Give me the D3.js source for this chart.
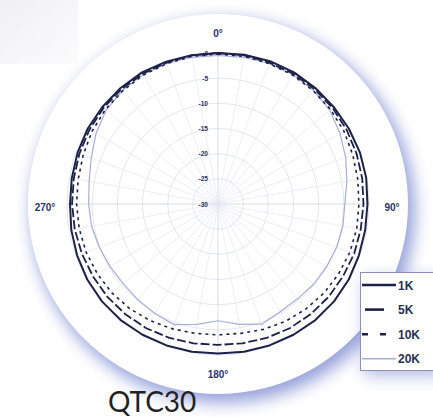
<!DOCTYPE html>
<html>
<head>
<meta charset="utf-8">
<script src="https://cdn.jsdelivr.net/npm/d3@7"></script>
<style>
  body { margin: 0; background: #fff; }
  svg { display: block; }
</style>
</head>
<body>
<div id="chart"></div>
<script>
var width = 433, height = 418;
var cx = 218, cy = 204, rMax = 151;

// measurement angles, degrees clockwise from top
var angles = d3.range(0, 360, 10);
// response in dB at each angle
var db1k  = [0, 0.1, 0.2, 0.2, 0.1, 0, 0, 0, -0.1, -0.3, -0.3, -0.2, 0, 0.1, 0.1, 0, -0.1, -0.2, -0.3,
             -0.2, -0.1, 0, 0.1, 0.1, 0, -0.2, -0.4, -0.6, -0.5, -0.3, -0.1, 0, 0.1, 0.2, 0.1, 0];
var db5k  = [0, 0, -0.1, -0.1, -0.2, -0.3, -0.5, -0.7, -0.9, -1.1, -1.2, -1.2, -1.3, -1.3, -1.4, -1.5, -1.7, -1.9, -2.0,
             -1.9, -1.7, -1.5, -1.4, -1.3, -1.3, -1.2, -1.1, -1.0, -0.9, -0.7, -0.5, -0.3, -0.2, -0.1, -0.1, 0];
var db10k = [-0.2, -0.2, -0.3, -0.4, -0.6, -0.8, -1.1, -1.5, -1.8, -2.0, -2.0, -2.1, -2.3, -2.5, -2.8, -3.1, -3.5, -3.9, -4.0,
             -3.9, -3.6, -3.2, -2.8, -2.5, -2.3, -2.1, -2.0, -1.9, -1.8, -1.5, -1.1, -0.8, -0.6, -0.4, -0.3, -0.2];
var db20k = [-0.5, -0.4, -0.3, -0.3, -0.5, -1.0, -2.0, -3.0, -4.0, -4.8, -4.8, -4.9, -5.1, -5.2, -5.4, -5.3, -4.6, -5.7, -6.8,
             -5.7, -4.5, -4.9, -5.2, -5.4, -5.2, -4.9, -4.5, -4.3, -4.0, -3.2, -2.0, -1.0, -0.5, -0.3, -0.3, -0.4];

var seriesNames = ["1K", "5K", "10K", "20K"];
var ringTicks = [0, -5, -10, -15, -20, -25, -30];
var angleLabels = [
  {angle: 0, label: "0°"},
  {angle: 90, label: "90°"},
  {angle: 180, label: "180°"},
  {angle: 270, label: "270°"}
];

var styles = {
  "1K":  {stroke: "#1d2148", width: 2, dash: null},
  "5K":  {stroke: "#1d2148", width: 1.8, dash: "9,3"},
  "10K": {stroke: "#1d2148", width: 1.6, dash: "3,4"},
  "20K": {stroke: "#a7aed8", width: 1.2, dash: null}
};

var series = [db1k, db5k, db10k, db20k].map(function (vals, i) {
  return {
    name: seriesNames[i],
    points: angles.map(function (a, j) { return {angle: a, db: vals[j]}; })
  };
});

var svg = d3.select("#chart").append("svg")
    .attr("width", width)
    .attr("height", height);

var defs = svg.append("defs");
defs.append("filter").attr("id", "glow")
    .attr("x", "-30%").attr("y", "-30%").attr("width", "160%").attr("height", "160%")
  .append("feGaussianBlur").attr("stdDeviation", 8);
var tl = defs.append("linearGradient").attr("id", "corner")
    .attr("x1", 0).attr("y1", 0).attr("x2", 1).attr("y2", 1);
tl.append("stop").attr("offset", "0%").attr("stop-color", "#f0f0f4");
tl.append("stop").attr("offset", "100%").attr("stop-color", "#fcfcfd");

// faded patch in the corner
svg.append("rect")
    .attr("x", 0).attr("y", 0).attr("width", 78).attr("height", 64)
    .attr("fill", "url(#corner)");

// blue halo and white disk
svg.append("circle")
    .attr("cx", cx + 5).attr("cy", cy + 7).attr("r", 192)
    .attr("fill", "#6c7bcb").attr("opacity", 0.7)
    .attr("filter", "url(#glow)");
svg.append("circle")
    .attr("cx", cx).attr("cy", cy).attr("r", 190)
    .attr("fill", "#fff");

var r = d3.scaleLinear().domain([-30, 0]).range([0, rMax]);
var rad = function (deg) { return deg * Math.PI / 180; };

var g = svg.append("g")
    .attr("transform", "translate(" + cx + "," + cy + ")");

// rings
g.selectAll(".ring")
    .data(ringTicks.slice(0, -1))
    .enter().append("circle")
    .attr("class", "ring")
    .attr("r", function (d) { return r(d); })
    .attr("fill", "none")
    .attr("stroke", "#dcdfeb")
    .attr("stroke-width", 0.8);

// spokes
g.selectAll(".spoke")
    .data(angles)
    .enter().append("line")
    .attr("class", "spoke")
    .attr("x1", 0).attr("y1", 0)
    .attr("x2", function (d) { return r(0) * Math.sin(rad(d)); })
    .attr("y2", function (d) { return -r(0) * Math.cos(rad(d)); })
    .attr("stroke", function (d) { return d % 90 === 0 ? "#c9cde0" : "#e5e7f0"; })
    .attr("stroke-width", 0.7);

// ring labels along 0 deg
g.selectAll(".rlab")
    .data(ringTicks)
    .enter().append("text")
    .attr("class", "rlab")
    .attr("x", -10)
    .attr("y", function (d) { return -r(d) + 2.5; })
    .attr("text-anchor", "end")
    .style("font-family", "Liberation Sans, Arial, sans-serif")
    .style("font-size", "6.5px")
    .style("font-weight", "bold")
    .attr("fill", "#2a2e55")
    .text(function (d) { return d; });

// response curves
var line = d3.lineRadial()
    .angle(function (d) { return rad(d.angle); })
    .radius(function (d) { return r(d.db); })
    .curve(d3.curveLinearClosed);

g.selectAll(".curve")
    .data(series.slice().reverse())
    .enter().append("path")
    .attr("class", "curve")
    .attr("d", function (d) { return line(d.points); })
    .attr("fill", "none")
    .attr("stroke", function (d) { return styles[d.name].stroke; })
    .attr("stroke-width", function (d) { return styles[d.name].width; })
    .attr("stroke-dasharray", function (d) { return styles[d.name].dash; })
    .attr("stroke-linejoin", "round");

// angle labels
var labPos = {0: [0, -167], 90: [174, 7], 180: [0, 174], 270: [-173, 7]};
g.selectAll(".alab")
    .data(angleLabels)
    .enter().append("text")
    .attr("class", "alab")
    .attr("x", function (d) { return labPos[d.angle][0]; })
    .attr("y", function (d) { return labPos[d.angle][1]; })
    .attr("text-anchor", "middle")
    .style("font-family", "Liberation Sans, Arial, sans-serif")
    .style("font-size", "10px")
    .style("font-weight", "bold")
    .attr("fill", "#2b3368")
    .text(function (d) { return d.label; });

// legend
var lg = svg.append("g").attr("transform", "translate(360,272)");
lg.append("rect")
    .attr("x", 4).attr("y", 6).attr("width", 80).attr("height", 98)
    .attr("fill", "#6c7bcb").attr("opacity", 0.5)
    .attr("filter", "url(#glow)");
lg.append("rect")
    .attr("x", 0.5).attr("y", 0.5).attr("width", 80).attr("height", 98)
    .attr("fill", "#fff")
    .attr("stroke", "#8a90b8");

var item = lg.selectAll(".item")
    .data(series)
    .enter().append("g")
    .attr("class", "item")
    .attr("transform", function (d, i) { return "translate(0," + (13 + i * 24.6) + ")"; });
item.append("line")
    .attr("x1", function (d) { return d.name === "5K" ? 5 : 2; })
    .attr("x2", function (d) { return d.name === "5K" ? 24 : 36; })
    .attr("y1", 0).attr("y2", 0)
    .attr("stroke", function (d) { return styles[d.name].stroke; })
    .attr("stroke-width", function (d) { return d.name === "20K" ? 1.5 : 2.6; })
    .attr("stroke-dasharray", function (d) { return d.name === "10K" ? "6,12" : null; });
item.append("text")
    .attr("x", 38)
    .attr("y", 4.5)
    .style("font-family", "Liberation Sans, Arial, sans-serif")
    .style("font-size", "12px")
    .style("font-weight", "bold")
    .attr("fill", "#2a3050")
    .text(function (d) { return d.name; });

// title
svg.append("text")
    .attr("x", 108)
    .attr("y", 412)
    .style("font-family", "Lato, sans-serif")
    .style("font-size", "28px")
    .attr("fill", "#222")
    .text("QTC30");
</script>
</body>
</html>
